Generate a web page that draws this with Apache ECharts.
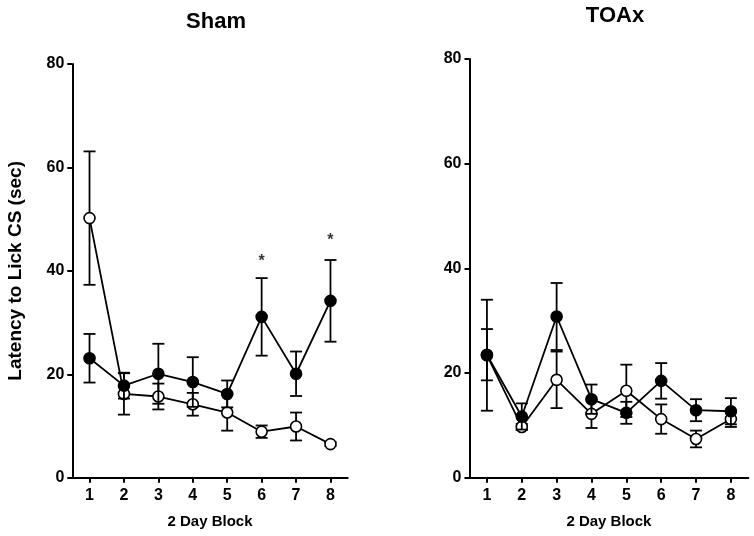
<!DOCTYPE html>
<html>
<head>
<meta charset="utf-8">
<script src="https://cdn.jsdelivr.net/npm/echarts@6/dist/echarts.min.js"></script>
<style>
html,body{margin:0;padding:0;background:#fff;}
#chart{width:754px;height:536px;}
</style>
</head>
<body>
<div id="chart"></div>
<script>
// ---- data ----
const blocks = ['1','2','3','4','5','6','7','8'];
const yTicks = [0, 20, 40, 60, 80];

const shamFilled    = [23.1, 17.8, 20.1, 18.5, 16.2, 31.1, 20.1, 34.2];
const shamFilledErr = [4.7, 2.5, 5.8, 4.8, 2.6, 7.5, 4.3, 7.9];
const shamOpen      = [50.2, 16.2, 15.7, 14.2, 12.6, 8.9, 9.9, 6.5];
const shamOpenErr   = [12.9, 4.0, 2.5, 2.2, 3.5, 1.2, 2.7, 0.4];

const toaxFilled    = [23.5, 11.7, 30.8, 15.0, 12.4, 18.5, 12.9, 12.7];
const toaxFilledErr = [4.9, 2.5, 6.4, 2.8, 2.1, 3.4, 2.1, 2.5];
const toaxOpen      = [23.4, 9.7, 18.7, 12.2, 16.6, 11.2, 7.4, 11.2];
const toaxOpenErr   = [10.6, 0.6, 5.4, 2.7, 5.0, 2.8, 1.6, 1.5];

const shamSigBlocks = ['6', '8'];
const shamSigY      = [42.5, 46.6];

// ---- helpers ----
const FONT = "'Liberation Sans', Arial, Helvetica, sans-serif";

function errData(vals, errs) {
  return vals.map((v, i) => [i, v - errs[i], v + errs[i]]);
}

function errSeries(vals, errs, axisIdx, z) {
  return {
    type: 'custom',
    xAxisIndex: axisIdx, yAxisIndex: axisIdx,
    z: z,
    silent: true,
    data: errData(vals, errs),
    encode: { x: 0, y: [1, 2] },
    renderItem: function (params, api) {
      const x = api.value(0);
      const lo = api.coord([x, api.value(1)]);
      const hi = api.coord([x, api.value(2)]);
      const hw = 6;
      const st = { stroke: '#000', lineWidth: 1.8 };
      return {
        type: 'group',
        children: [
          { type: 'line', shape: { x1: lo[0], y1: lo[1], x2: hi[0], y2: hi[1] }, style: st },
          { type: 'line', shape: { x1: hi[0] - hw, y1: hi[1], x2: hi[0] + hw, y2: hi[1] }, style: st },
          { type: 'line', shape: { x1: lo[0] - hw, y1: lo[1], x2: lo[0] + hw, y2: lo[1] }, style: st }
        ]
      };
    }
  };
}

function lineSeries(vals, axisIdx, filled, z) {
  return {
    type: 'line',
    xAxisIndex: axisIdx, yAxisIndex: axisIdx,
    z: z,
    data: vals,
    symbol: 'circle',
    symbolSize: 11,
    showAllSymbol: true,
    lineStyle: { color: '#000', width: 1.8 },
    itemStyle: { color: filled ? '#000' : '#fff', borderColor: '#000', borderWidth: 1.6 },
    emphasis: { disabled: true },
    animation: false
  };
}

function xAxisDef(gridIdx) {
  return {
    type: 'category',
    gridIndex: gridIdx,
    data: blocks,
    boundaryGap: true,
    name: '2 Day Block',
    nameLocation: 'middle',
    nameGap: 37,
    nameTextStyle: { color: '#000', fontWeight: 'bold', fontSize: 15, fontFamily: FONT },
    axisLine: { show: true, lineStyle: { color: '#000', width: 2 } },
    axisTick: { show: true, alignWithLabel: true, length: 5, lineStyle: { color: '#000', width: 2 } },
    axisLabel: { color: '#000', fontWeight: 'bold', fontSize: 16, fontFamily: FONT, margin: 10 },
    splitLine: { show: false }
  };
}

function yAxisDef(gridIdx, withName) {
  const ax = {
    type: 'value',
    gridIndex: gridIdx,
    min: yTicks[0],
    max: yTicks[yTicks.length - 1],
    interval: yTicks[1] - yTicks[0],
    axisLine: { show: true, lineStyle: { color: '#000', width: 2 } },
    axisTick: { show: true, length: 5, lineStyle: { color: '#000', width: 2 } },
    axisLabel: { color: '#000', fontWeight: 'bold', fontSize: 16, fontFamily: FONT, margin: 8 },
    splitLine: { show: false }
  };
  if (withName) {
    ax.name = 'Latency to Lick CS (sec)';
    ax.nameLocation = 'middle';
    ax.nameGap = 47;
    ax.nameTextStyle = { color: '#000', fontWeight: 'bold', fontSize: 19, fontFamily: FONT };
  }
  return ax;
}

const chart = echarts.init(document.getElementById('chart'), null, { renderer: 'canvas' });

const option = {
  backgroundColor: '#fff',
  animation: false,
  title: [
    { text: 'Sham', left: 211, top: 6, textAlign: 'center',
      textStyle: { color: '#000', fontWeight: 'bold', fontSize: 22, fontFamily: FONT } },
    { text: 'TOAx', left: 610, top: 0, textAlign: 'center',
      textStyle: { color: '#000', fontWeight: 'bold', fontSize: 22, fontFamily: FONT } }
  ],
  grid: [
    { left: 72.3, right: 406.3, top: 64, bottom: 58.3, containLabel: false },
    { left: 469.5, right: 5.7, top: 59, bottom: 58.3, containLabel: false }
  ],
  xAxis: [xAxisDef(0), xAxisDef(1)],
  yAxis: [yAxisDef(0, true), yAxisDef(1, false)],
  series: [
    errSeries(shamOpen, shamOpenErr, 0, 1),
    lineSeries(shamOpen, 0, false, 2),
    errSeries(shamFilled, shamFilledErr, 0, 3),
    lineSeries(shamFilled, 0, true, 4),

    errSeries(toaxOpen, toaxOpenErr, 1, 1),
    lineSeries(toaxOpen, 1, false, 2),
    errSeries(toaxFilled, toaxFilledErr, 1, 3),
    lineSeries(toaxFilled, 1, true, 4),

    {
      type: 'scatter',
      xAxisIndex: 0, yAxisIndex: 0,
      z: 5,
      silent: true,
      symbolSize: 1,
      itemStyle: { color: 'rgba(0,0,0,0)' },
      data: shamSigBlocks.map((b, i) => [b, shamSigY[i]]),
      label: {
        show: true, position: 'inside', formatter: '*', offset: [0, 4],
        color: '#000', fontWeight: 'bold', fontSize: 16, fontFamily: FONT
      }
    }
  ]
};

chart.setOption(option);
</script>
</body>
</html>
